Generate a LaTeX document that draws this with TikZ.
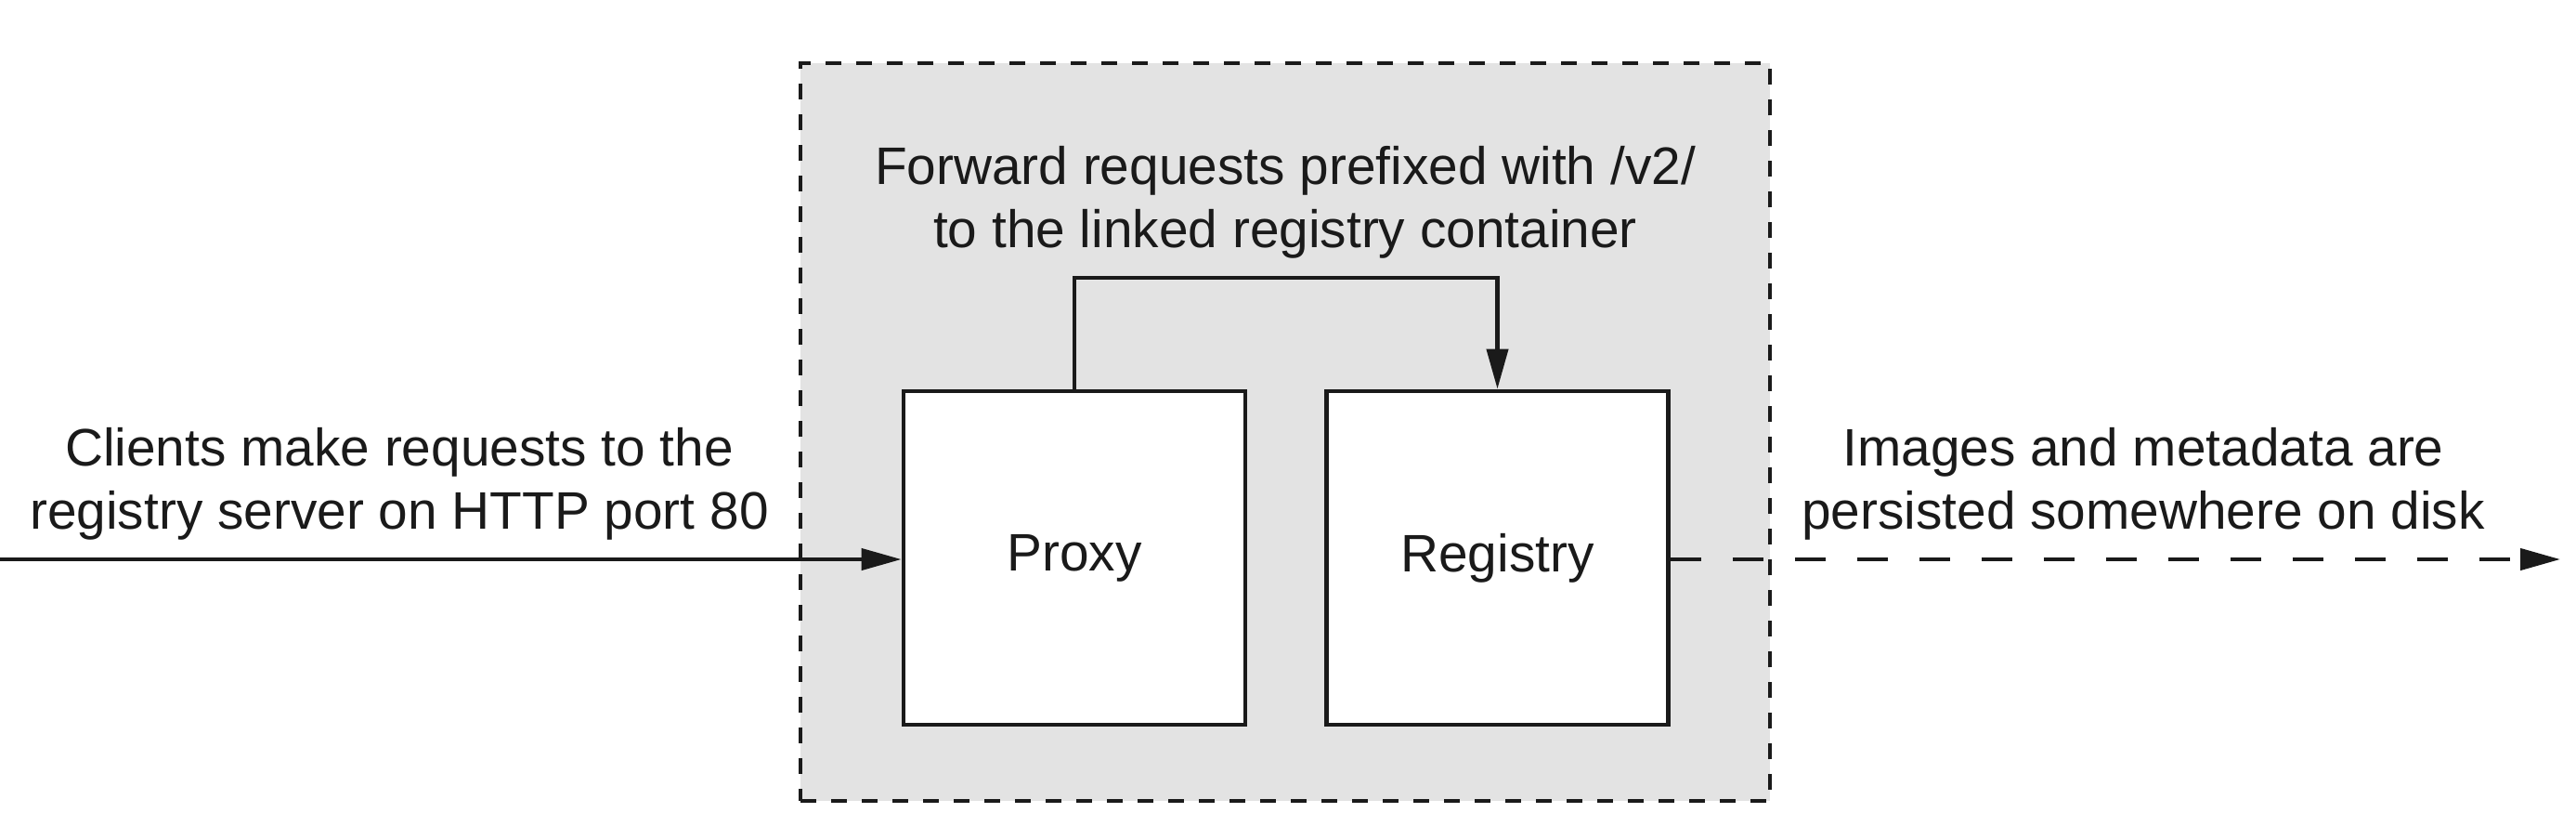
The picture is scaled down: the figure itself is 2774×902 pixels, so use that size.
\documentclass[tikz,border=0pt]{standalone}
\usepackage{fontspec}
\setmainfont{Liberation Sans}
\usetikzlibrary{arrows.meta}
\definecolor{ink}{HTML}{1A1A1A}
\definecolor{panelgray}{HTML}{E3E3E3}
\begin{document}
\begin{tikzpicture}[x=0.25pt,y=-0.25pt,
  lbl/.style={font=\fontsize{14.2}{17}\selectfont, align=center, text=ink, inner sep=0pt},
  groupbox/.style={draw=ink, fill=panelgray, line width=0.9pt, dash pattern=on 4.25pt off 4pt,
                   minimum width=261pt, minimum height=198.5pt, inner sep=0pt},
  compbox/.style={draw=ink, fill=white, line width=1.2pt, minimum width=92pt, minimum height=89.75pt,
                  inner sep=0pt, font=\fontsize{14.2}{17}\selectfont, text=ink},
  conn/.style={draw=ink, line width=1.05pt, -{Triangle[length=10.75pt,width=5.75pt]}},
  dashconn/.style={conn, dash pattern=on 8.25pt off 8.5pt}]
\useasboundingbox (0,0) rectangle (2774,902);
\node[groupbox] (group) at (1384,465) {};
\node[compbox] (proxy) at (1157,600.5) {Proxy};
\node[compbox] (registry) at (1612.5,600.5) {Registry};
\node[lbl] (fwd) at (1384,218) {Forward requests prefixed with /v2/\\to the linked registry container};
\node[lbl] (clients) at (430,521) {Clients make requests to the\\registry server on HTTP port 80};
\node[lbl] (images) at (2308,521) {Images and metadata are\\persisted somewhere on disk};
\coordinate (start) at (0,602);
\coordinate (finish) at (2757,602);
\draw[conn] (proxy.north) -- ++(0,-120) -| (registry.north);
\draw[conn] (start) -- (start -| proxy.west);
\draw[dashconn] (registry.east |- finish) -- (finish);
\end{tikzpicture}
\end{document}
